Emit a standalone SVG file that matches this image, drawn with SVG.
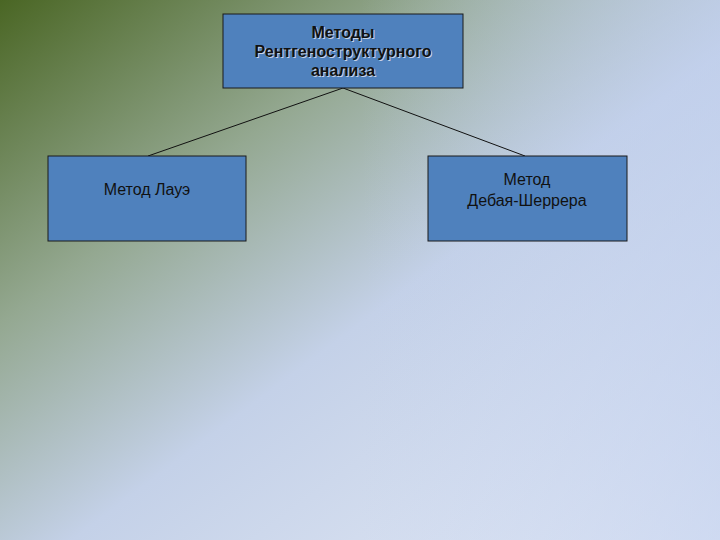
<svg xmlns="http://www.w3.org/2000/svg" width="720" height="540" viewBox="0 0 720 540">
<defs>
<linearGradient id="bg" x1="0" y1="0" x2="1" y2="1" gradientUnits="objectBoundingBox">
<stop offset="0" stop-color="#4a6624"/>
<stop offset="0.3" stop-color="#94a891"/>
<stop offset="0.55" stop-color="#c4d1e8"/>
<stop offset="1" stop-color="#e4eaf6"/>
</linearGradient>
<linearGradient id="bg2" x1="0" y1="0" x2="1" y2="0">
<stop offset="0.5" stop-color="#c0cfee" stop-opacity="0"/>
<stop offset="1" stop-color="#c0cfee" stop-opacity="0.6"/>
</linearGradient>
<style>
.box{fill:#4f81bd;stroke:#1a1a1a;stroke-width:1}
.t{font-family:"Liberation Sans",Arial,sans-serif;font-size:16px;fill:#111;text-anchor:middle}
.b{font-weight:bold}
.sh{fill:#c8d4e8}
</style>
</defs>
<rect width="720" height="540" fill="url(#bg)"/>
<rect width="720" height="540" fill="url(#bg2)"/>
<g id="connectors" stroke="#111" stroke-width="1">
<line x1="343" y1="88" x2="148" y2="156"/>
<line x1="343" y1="88" x2="525" y2="156"/>
</g>
<g id="top">
<rect class="box" x="223" y="14" width="240" height="74"/>
<g class="t b sh" transform="translate(1,1)">
<text x="343" y="38">Методы</text>
<text x="343" y="57">Рентгеноструктурного</text>
<text x="343" y="76">анализа</text>
</g>
<g class="t b">
<text x="343" y="38">Методы</text>
<text x="343" y="57">Рентгеноструктурного</text>
<text x="343" y="76">анализа</text>
</g>
</g>
<g id="laue">
<rect class="box" x="48" y="156" width="198" height="85"/>
<text class="t" x="147" y="195">Метод Лауэ</text>
</g>
<g id="debye">
<rect class="box" x="428" y="156" width="199" height="85"/>
<text class="t" x="527" y="185">Метод</text>
<text class="t" x="527" y="206">Дебая-Шеррера</text>
</g>
</svg>
